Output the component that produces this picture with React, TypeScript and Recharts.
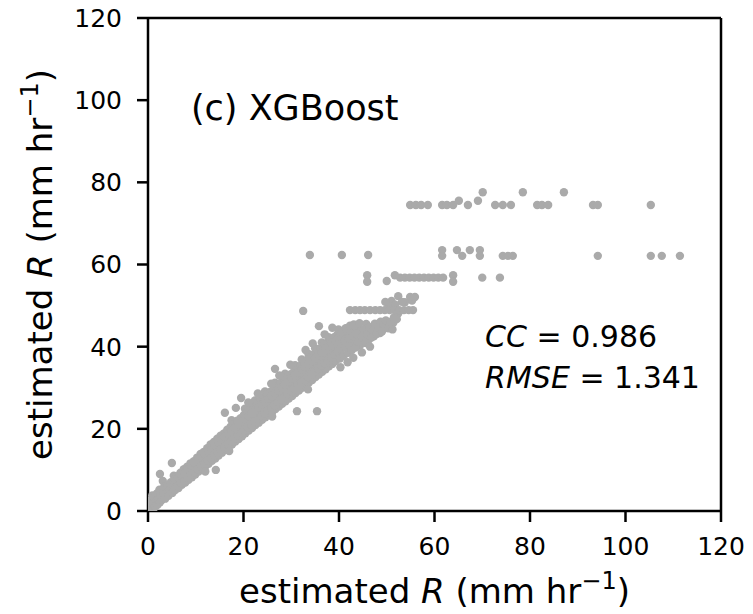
import React from 'react';
import { ScatterChart, Scatter, XAxis, YAxis, ReferenceLine, ReferenceDot, Label } from 'recharts';

const xTicks = [0, 20, 40, 60, 80, 100, 120];
const yTicks = [0, 20, 40, 60, 80, 100, 120];

const bandLow: [number, number][] = [
  [0.2,0.3],[0.3,1.6],[0.5,0.6],[0.6,2.7],[0.8,1.2],[0.9,3.8],[1.1,0.5],[1.2,2.1],[1.4,3.2],[1.5,1.0],[1.7,2.4],[1.9,4.3],[2.0,1.5],[2.2,3.0],[2.4,5.2],[2.5,2.1],[2.5,9.0],[2.7,3.9],[3.1,7.3],[2.9,2.7],[3.2,4.5],[3.4,5.9],[3.6,3.0],[3.9,4.4],[4.1,6.3],[4.3,3.7],[4.6,5.3],[4.8,7.0],[5.0,11.7],[5.1,4.4],[5.3,6.0],[5.4,8.6],[5.7,5.1],[5.9,7.0],[6.1,8.5],[6.4,5.6],[6.6,7.6],[6.8,9.3],[7.1,6.4],[7.3,8.1],[7.5,10.2],[7.8,6.9],[8.0,8.9],[8.2,10.8],[8.5,7.6],[8.7,9.6],[8.9,11.6],[9.2,8.2],[9.4,10.3],[9.6,12.1],[9.9,8.9],[10.1,11.0],[10.3,13.0],[10.6,9.6],[10.8,11.6],[11.0,13.9],[11.3,10.2],[11.5,12.3],[11.7,14.4],[12.0,10.9],[12.2,13.1],[12.4,15.3],[12.7,11.5],[12.9,13.8],[13.1,16.2],[13.4,12.2],[13.6,14.4],[13.8,16.8],[14.1,12.8],[14.2,10.0],[14.3,15.2],[14.5,17.6],[14.8,13.5],[15.0,15.9],[15.2,18.3],[15.5,14.2],[15.7,16.5],[15.9,18.9],[16.1,23.9],[16.2,14.9],[16.4,17.3],[16.6,19.8],[16.9,15.5],[17.1,18.0],[17.3,20.5],[17.5,22.1],[17.6,16.2],[17.8,18.6],[18.0,21.2],[18.4,25.1],[18.3,16.9],[18.5,19.4],[18.7,22.0],[19.0,17.5],[19.2,20.1],[19.4,22.6],[19.5,27.5],[19.7,18.2],[19.9,20.8],[20.1,23.4],[20.3,24.9],[20.4,18.9],[20.6,21.5],[20.8,24.1],[21.1,19.6],[21.3,22.2],[21.5,24.8],[21.8,20.2],[22.0,22.9],[22.2,25.5],[22.4,26.9],[22.5,20.9],[22.7,23.6],[22.9,26.2],[23.2,21.5],[23.4,24.3],[23.6,27.0],[23.9,22.2],[24.1,25.0],[24.3,27.7],[24.5,29.1],[24.6,22.8],[24.8,25.6],[25.0,28.4],[25.3,23.5],[25.5,26.3],[25.7,29.1],[26.0,24.1],[26.2,27.0],[26.4,29.8],[26.6,34.6],[26.6,31.2],[26.7,24.8],[26.9,27.7],[27.1,30.5],[27.4,25.4],[27.6,28.4],[27.8,31.2],[28.1,26.1],[28.3,29.1],[28.5,31.9],[28.7,33.4],[28.8,26.7],[29.0,29.8],[29.2,32.6],[29.5,27.4],[29.7,30.4],[29.9,33.3],[30.2,28.0],[30.4,31.1],[30.6,34.0],[30.8,35.5],[30.9,28.7],[31.1,31.8],[31.2,24.3],[31.3,34.7],[31.6,29.3],[31.8,32.5],[32.0,35.4],[32.2,36.9],[32.3,30.0],[32.5,48.7],[32.5,33.2],[32.7,36.1],[33.0,30.6],[33.2,33.9],[33.4,36.8],[33.6,38.2],[33.7,31.3],[33.9,34.6],[34.1,37.5],[34.4,31.9],[34.6,35.3],[34.8,38.2],[35.0,39.6],[35.1,32.6],[35.3,36.0],[35.4,24.3],[35.5,38.9],[35.8,45.0],[35.8,33.2],[36.0,36.7],[36.2,39.6],[36.4,41.0],[36.5,33.9],[36.7,37.4],[36.9,40.3],[37.2,34.5],[37.4,38.1],[37.6,41.0],[37.8,42.3],[37.9,35.2],[38.1,38.8],[38.3,41.6],[38.6,35.8],[38.8,39.5],[39.0,42.3],[39.3,36.5],[39.5,40.2],[39.7,43.0],[39.9,44.2]
];

const bandFill: [number, number][] = [
  [5.5,5.3],[5.6,7.6],[6.2,6.1],[6.3,8.0],[6.9,6.8],[7.0,8.7],[7.6,7.4],[7.7,9.4],[8.3,8.1],[8.4,10.2],[9.0,8.8],[9.1,10.9],[9.7,9.5],[9.8,11.6],[10.4,10.2],[10.5,12.3],[11.1,10.8],[11.2,13.1],[11.8,11.5],[11.9,13.8],[12.5,12.2],[12.6,14.5],[13.2,12.9],[13.3,15.2],[13.9,13.6],[14.0,16.0],[14.6,14.3],[14.7,16.7],[15.3,15.0],[15.4,17.4],[16.0,15.6],[16.1,18.1],[16.7,16.3],[16.8,18.8],[17.4,17.0],[17.5,19.5],[18.1,17.7],[18.2,20.3],[18.8,18.3],[18.9,21.0],[19.5,19.0],[19.6,21.7],[20.2,19.7],[20.3,22.4],[20.9,20.4],[21.0,23.1],[21.6,21.0],[21.7,23.8],[22.3,21.7],[22.4,24.5],[23.0,22.4],[23.1,25.2],[23.7,23.1],[23.8,25.9],[24.4,23.8],[24.5,26.6],[25.1,24.4],[25.2,27.3],[25.8,25.1],[25.9,28.0],[26.5,25.8],[26.6,28.7],[27.2,26.5],[27.3,29.4],[27.9,27.2],[28.0,30.1],[28.6,27.8],[28.7,30.8],[29.3,28.5],[29.4,31.5],[30.0,29.2],[30.1,32.3],[30.7,29.9],[30.8,33.0],[31.4,30.6],[31.5,33.7],[32.1,31.3],[32.2,34.4],[32.8,31.9],[32.9,35.1],[33.5,32.6],[33.6,35.8],[34.2,33.3],[34.3,36.5],[34.9,34.0],[35.0,37.2],[35.6,34.7],[35.7,37.9],[36.3,35.4],[36.4,38.6],[37.0,36.0],[37.1,39.3],[37.7,36.7],[37.8,40.0],[38.4,37.4],[38.5,40.7],[39.1,38.1],[39.2,41.4],[39.8,38.8],[39.9,42.1],[40.5,39.5],[40.6,42.0],[41.3,40.0],[41.5,43.0],[42.2,40.5],[42.5,43.8],[43.3,41.5],[43.8,44.3],[44.4,40.3],[44.6,44.0],[45.4,42.8],[45.7,45.5],[46.2,41.6],[46.6,44.0],[47.3,42.5],[47.8,45.2],[48.6,43.3],[49.2,44.6],[50.0,45.4],[50.8,45.1],[51.4,45.9],[52.4,48.1],[53.8,50.8],[50.4,50.0],[51.0,51.1],[55.3,51.2]
];

const bandEdge: [number, number][] = [
  [21.0,26.4],[23.0,28.6],[25.8,31.0],[27.5,33.0],[29.8,35.6],[33.0,39.2],[34.5,40.8],[37.0,43.0],[38.6,44.6],[12.0,9.6],[17.0,14.6],[26.0,23.0],[33.5,29.6]
];

const bandHigh: [number, number][] = [
  [40.3,35.0],[40.2,37.1],[40.4,40.8],[40.6,43.6],[41.0,37.8],[41.2,41.4],[41.4,44.5],[41.8,36.2],[41.9,38.5],[42.1,42.0],[42.3,45.1],[42.7,39.2],[42.9,42.6],[43.0,37.3],[43.1,45.4],[43.5,39.8],[43.7,43.1],[44.0,41.2],[44.3,45.7],[44.8,38.6],[44.9,42.3],[45.2,44.1],[45.6,40.9],[45.9,43.0],[46.3,44.8],[46.5,40.0],[46.8,42.2],[47.1,44.0],[47.5,45.6],[47.9,43.1],[48.3,44.6],[48.7,46.1],[49.0,43.7],[49.4,45.3],[49.8,46.4],[50.3,44.5],[50.7,46.0],[51.2,44.2],[51.5,47.1],[52.1,46.7],[52.4,52.3],[53.2,50.9],[54.9,52.1],[55.9,52.1],[49.7,50.9],[51.8,50.2]
];

const row49: [number, number][] = [
  [42.3,48.9],[43.4,48.9],[44.4,48.9],[45.4,48.9],[46.5,48.9],[47.6,48.9],[48.6,48.9],[49.6,48.9],[50.6,48.9],[51.6,48.9],[52.6,48.9],[53.6,48.9],[54.6,48.9],[55.5,48.9]
];

const row57: [number, number][] = [
  [45.9,57.4],[45.9,55.8],[50.0,56.0],[51.7,57.4],[52.8,56.8],[53.8,56.8],[54.8,56.8],[55.8,56.8],[56.8,56.8],[57.8,56.8],[58.8,56.8],[59.8,56.8],[60.8,56.8],[61.8,56.8],[63.9,57.4],[63.9,55.8],[70.0,56.8],[73.7,56.8]
];

const row62: [number, number][] = [
  [33.9,62.3],[40.6,62.3],[46.1,62.3],[61.6,63.5],[61.6,62.1],[64.7,63.5],[65.8,62.1],[67.4,63.5],[69.5,63.5],[69.5,62.1],[74.3,62.1],[75.4,62.1],[76.4,62.1],[94.2,62.1],[105.3,62.1],[107.6,62.1],[111.4,62.1]
];

const row74: [number, number][] = [
  [54.9,74.5],[56.1,74.5],[57.2,74.5],[58.6,74.5],[61.6,74.5],[62.6,74.5],[63.9,74.5],[65.1,75.5],[67.0,74.5],[69.1,75.5],[72.7,74.5],[74.3,74.5],[76.0,74.5],[81.5,74.5],[82.5,74.5],[83.8,74.5],[93.2,74.5],[94.2,74.5],[105.3,74.5],[70.1,77.6],[78.5,77.6],[87.1,77.6]
];

const allPoints = [...bandLow, ...bandFill, ...bandEdge, ...bandHigh, ...row49, ...row57, ...row62, ...row74].map(([x, y]) => ({ x, y }));

const FONT = 'DejaVu Sans';

const Dot = (props: any) => <circle cx={props.cx} cy={props.cy} r={4.2} fill="#aaaaaa" />;

const AxisText = ({ x, y, transform }: { x: number; y: number; transform?: string }) => (
  <text x={x} y={y} textAnchor="middle" fontFamily={FONT} fontSize={34} fill="#000" transform={transform}>
    <tspan>estimated </tspan>
    <tspan fontStyle="italic">R</tspan>
    <tspan> (mm hr</tspan>
    <tspan dy={-14} fontSize={24}>−1</tspan>
    <tspan dy={14}>)</tspan>
  </text>
);

const XLabel = (props: any) => {
  const vb = props.viewBox;
  return <AxisText x={vb.x + vb.width / 2} y={vb.y + 92} />;
};

const YLabel = (props: any) => {
  const vb = props.viewBox;
  const bx = vb.x + 52;
  const cy = vb.y + vb.height / 2;
  return <AxisText x={bx} y={cy} transform={`rotate(-90, ${bx}, ${cy})`} />;
};

export default function App() {
  const axisStyle = { stroke: '#000', strokeWidth: 2.5 };
  const tickStyle = { fill: '#000', fontSize: 25, fontFamily: FONT };
  return (
    <div style={{ position: 'absolute', left: 0, top: 0, background: '#fff' }}>
      <ScatterChart width={753} height={614} margin={{ top: 18, right: 32, left: 0, bottom: 0 }}>
        <XAxis
          type="number"
          dataKey="x"
          domain={[0, 120]}
          ticks={xTicks}
          height={103}
          tickSize={11}
          tickMargin={15}
          axisLine={axisStyle}
          tickLine={axisStyle}
          tick={tickStyle}
          allowDataOverflow
        >
          <Label content={XLabel} />
        </XAxis>
        <YAxis
          type="number"
          dataKey="y"
          domain={[0, 120]}
          ticks={yTicks}
          width={148}
          tickSize={11}
          tickMargin={15}
          axisLine={axisStyle}
          tickLine={axisStyle}
          tick={tickStyle}
          allowDataOverflow
        >
          <Label content={YLabel} />
        </YAxis>
        <ReferenceLine y={120} stroke="#000" strokeWidth={2.5} />
        <ReferenceLine x={120} stroke="#000" strokeWidth={2.5} />
        <Scatter data={allPoints} shape={Dot} isAnimationActive={false} />
        <ReferenceDot
          x={9.0}
          y={95.2}
          r={0}
          shape={(p: any) => (
            <text x={p.cx} y={p.cy} fontFamily={FONT} fontSize={35} fill="#000">(c) XGBoost</text>
          )}
        />
        <ReferenceDot
          x={70.6}
          y={39.9}
          r={0}
          shape={(p: any) => (
            <text x={p.cx} y={p.cy} fontFamily={FONT} fontSize={30} fill="#000">
              <tspan fontStyle="italic">CC</tspan>
              <tspan> = 0.986</tspan>
            </text>
          )}
        />
        <ReferenceDot
          x={70.6}
          y={29.9}
          r={0}
          shape={(p: any) => (
            <text x={p.cx} y={p.cy} fontFamily={FONT} fontSize={30} fill="#000">
              <tspan fontStyle="italic">RMSE</tspan>
              <tspan> = 1.341</tspan>
            </text>
          )}
        />
      </ScatterChart>
    </div>
  );
}
